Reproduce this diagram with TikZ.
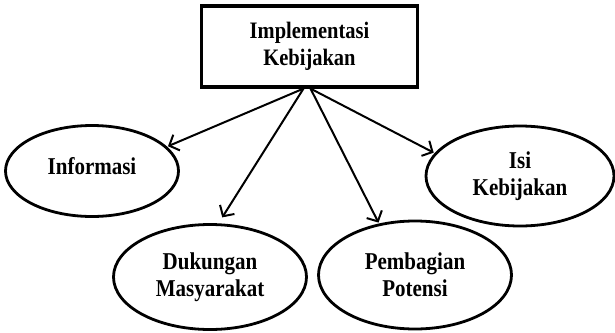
\documentclass[tikz,border=0pt]{standalone}
\usepackage{fontspec}
\setmainfont{Liberation Serif}
\usetikzlibrary{arrows.meta,shapes.geometric}
\newcommand{\tall}[1]{\scalebox{1}[1.15]{#1}}
\tikzset{
    oval/.style={draw,ellipse,line width=2.8pt,inner sep=0pt,align=center,
        font=\bfseries\fontsize{21}{27}\selectfont},
    link/.style={line width=2pt,-{Straight Barb[length=8pt,width=17pt,line width=2pt]}}
}
\begin{document}
\begin{tikzpicture}[x=1pt,y=-1pt]
    \useasboundingbox (0,0) rectangle (615,332);
    \node[draw,line width=3.2pt,minimum width=216pt,minimum height=81pt,align=center,
        font=\bfseries\fontsize{20.5}{27}\selectfont] (impl) at (309.5,46.5) {\tall{Implementasi}\\\tall{Kebijakan}};
    \node[oval,minimum width=173pt,minimum height=91pt] (info) at (92,171) {\raisebox{10pt}{\tall{Informasi}}};
    \node[oval,minimum width=193pt,minimum height=105pt] (duk) at (210,277) {\tall{Dukungan}\\\tall{Masyarakat}};
    \node[oval,minimum width=193pt,minimum height=108pt] (pemb) at (415,275) {\tall{Pembagian}\\\tall{Potensi}};
    \node[oval,minimum width=188pt,minimum height=100pt] (isi) at (520,176) {\tall{Isi}\\\tall{Kebijakan}};
    \coordinate (sa) at ([xshift=-6pt]impl.south);
    \coordinate (sb) at ([xshift=1pt]impl.south);
    \draw[link,shorten >=1pt] (sa) -- (info.18);
    \draw[link,shorten >=7pt] (sa) -- (duk.81);
    \draw[link,shorten >=1pt] (sb) -- (pemb.125);
    \draw[link,shorten >=1pt] (sb) -- (isi.165);
\end{tikzpicture}
\end{document}
